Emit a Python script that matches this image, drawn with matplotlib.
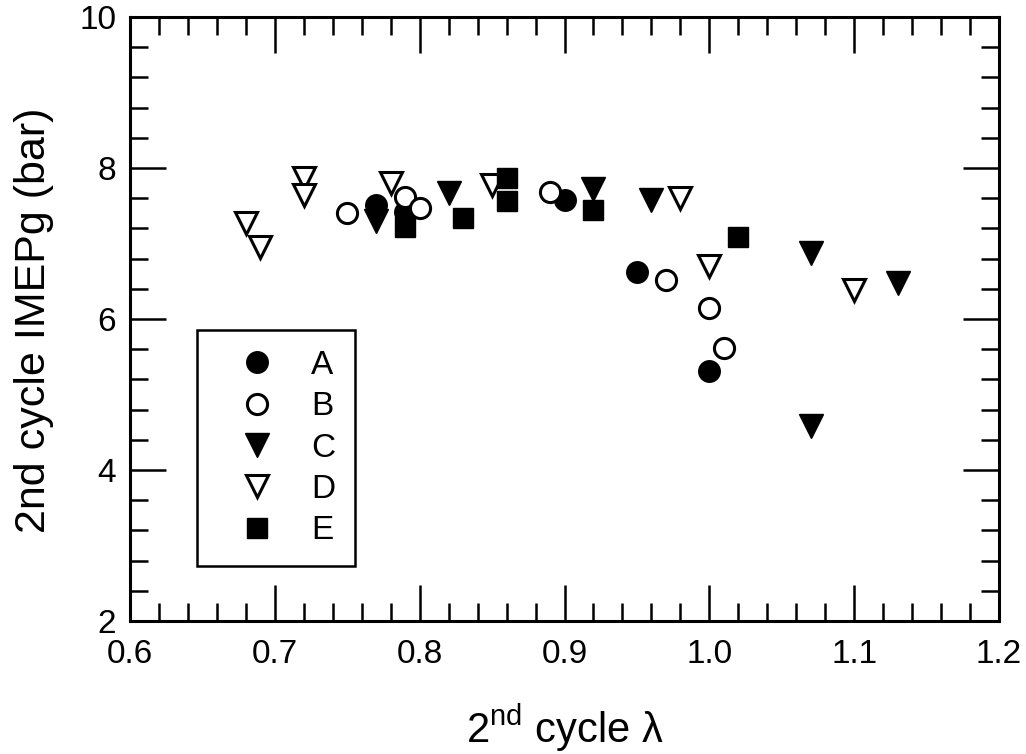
import matplotlib
matplotlib.use("Agg")
import matplotlib.pyplot as plt
from matplotlib.ticker import MultipleLocator

plt.rcParams['font.family'] = ['Liberation Sans', 'DejaVu Sans']
plt.rcParams['mathtext.fontset'] = 'custom'
plt.rcParams['mathtext.rm'] = 'Liberation Sans'
plt.rcParams['mathtext.it'] = 'Liberation Sans:italic'

# 2nd-cycle lambda vs 2nd-cycle gross IMEP for five cases
a_lambda = [0.77, 0.79, 0.90, 0.95, 1.00]
a_imep = [7.51, 7.42, 7.57, 6.62, 5.31]

b_lambda = [0.75, 0.79, 0.80, 0.89, 0.97, 1.00, 1.01]
b_imep = [7.40, 7.62, 7.47, 7.68, 6.52, 6.15, 5.62]

c_lambda = [0.77, 0.82, 0.92, 0.96, 1.07, 1.07, 1.13]
c_imep = [7.30, 7.67, 7.72, 7.57, 6.88, 4.58, 6.48]

d_lambda = [0.68, 0.69, 0.72, 0.72, 0.78, 0.85, 0.98, 1.00, 1.10]
d_imep = [7.27, 6.95, 7.87, 7.64, 7.80, 7.78, 7.60, 6.70, 6.38]

e_lambda = [0.79, 0.83, 0.86, 0.86, 0.92, 1.02]
e_imep = [7.22, 7.34, 7.87, 7.56, 7.44, 7.08]

labels = ['A', 'B', 'C', 'D', 'E']
x_ticks = [0.6, 0.7, 0.8, 0.9, 1.0, 1.1, 1.2]
x_tick_labels = ['0.6', '0.7', '0.8', '0.9', '1.0', '1.1', '1.2']
y_ticks = [2, 4, 6, 8, 10]

fig = plt.figure(figsize=(10.26, 7.54), dpi=100)
ax = fig.add_axes([130 / 1026, (754 - 621) / 754, 869 / 1026, 604 / 754])

styles = [
    dict(marker='o', ms=15.5, mfc='black', mec='black', mew=1.0),
    dict(marker='o', ms=14.5, mfc='white', mec='black', mew=2.2),
    dict(marker='v', ms=17.0, mfc='black', mec='black', mew=1.0),
    dict(marker='v', ms=15.5, mfc='white', mec='black', mew=2.2),
    dict(marker='s', ms=14.8, mfc='black', mec='black', mew=1.0),
]
series = [(a_lambda, a_imep), (b_lambda, b_imep), (c_lambda, c_imep),
          (d_lambda, d_imep), (e_lambda, e_imep)]
order = [3, 0, 1, 2, 4]
handles = {}
for i in order:
    xs, ys = series[i]
    h, = ax.plot(xs, ys, linestyle='none', label=labels[i], zorder=3 + order.index(i),
                 **styles[i])
    handles[i] = h

ax.set_xlim(0.6, 1.2)
ax.set_ylim(2, 10)
ax.set_xticks(x_ticks)
ax.set_xticklabels(x_tick_labels)
ax.set_yticks(y_ticks)
ax.xaxis.set_minor_locator(MultipleLocator(0.02))
ax.yaxis.set_minor_locator(MultipleLocator(0.4))

for s in ax.spines.values():
    s.set_linewidth(2.2)

ax.tick_params(which='both', direction='in', top=True, right=True, width=1.8)
ax.tick_params(which='major', length=26, labelsize=24)
ax.tick_params(which='minor', length=13)
ax.tick_params(axis='x', which='major', pad=13)
ax.tick_params(axis='y', which='major', pad=10)

ax.set_ylabel('2nd cycle IMEPg (bar)', fontsize=31)
ax.yaxis.set_label_coords(-0.088, 0.498)
ax.set_xlabel(r'2$^{\rm nd}$ cycle λ', fontsize=30, va='top')
ax.xaxis.set_label_coords(0.5, -0.135)

leg = ax.legend([handles[i] for i in range(5)], labels, loc='upper left',
                bbox_to_anchor=(0.077, 0.482), fontsize=24, frameon=True,
                fancybox=False, edgecolor='black', framealpha=1,
                handlelength=2.4, handletextpad=0.42, labelspacing=0.31,
                borderpad=0.6, borderaxespad=0, numpoints=1)
leg.get_frame().set_linewidth(1.8)

fig.savefig('out.png', dpi=100)
